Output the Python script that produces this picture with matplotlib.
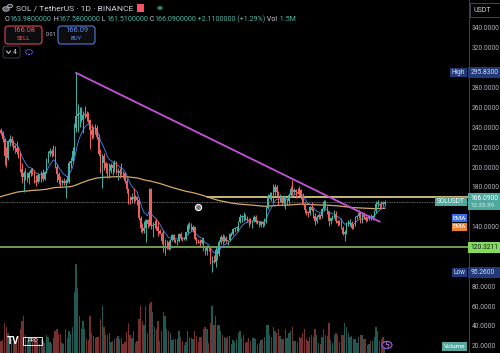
import matplotlib
matplotlib.use("Agg")
import matplotlib.pyplot as plt
from matplotlib.patches import Rectangle, FancyBboxPatch, Circle
from matplotlib.lines import Line2D

# SOL / TetherUS, 1D, Binance -- daily candles 2024-12-06 .. 2025-07-15
opens = [
    227, 238, 235, 229, 212, 210, 226, 229, 225, 222, 220, 216, 214, 199, 191, 195, 193, 190, 195, 198, 197, 187, 186, 193, 190, 195,  # dec
    189, 196, 207, 215, 217, 214, 219, 201, 194, 188, 186, 187, 185, 187, 186, 205, 207, 217, 240, 252, 254, 255, 248, 253, 254, 251, 248, 238, 233, 238, 240,  # jan
    231, 214, 203, 212, 205, 200, 192, 197, 203, 200, 205, 196, 197, 195, 196, 195, 187, 179, 170, 168, 171, 169, 171, 168, 150, 140, 137, 140,  # feb
    148, 144, 179, 142, 143, 144, 141, 137, 134, 126, 125, 125, 125, 118, 128, 133, 127, 127, 126, 134, 130, 128, 129, 136, 143, 143, 138, 141, 129, 126, 125,  # mar
    124, 128, 117, 116, 120, 119, 106, 106, 105, 117, 113, 125, 131, 126, 130, 126, 127, 134, 134, 139, 140, 140, 146, 151, 151, 151, 149, 148, 147, 146,  # apr
    147, 151, 146, 146, 143, 146, 144, 146, 160, 172, 172, 172, 176, 181, 176, 168, 171, 165, 171, 166, 167, 173, 179, 176, 178, 176, 175, 178, 172, 164, 158,  # may
    156, 155, 161, 158, 152, 147, 151, 153, 152, 159, 166, 161, 156, 147, 150, 151, 154, 147, 145, 146, 140, 134, 136, 145, 145, 145, 140, 143, 151, 152,  # jun
    155, 147, 153, 151, 148, 150, 151, 150, 152, 157, 164, 164, 163, 164, 163.98,  # jul
]
highs = [
    243, 240, 237, 230, 221, 228, 233, 232, 228, 224, 227, 221, 216, 205, 197, 200, 196, 197, 200, 200, 198, 193, 195, 194, 197, 199,
    197, 210, 217, 220, 219, 223, 222, 204, 196, 192, 189, 190, 189, 192, 207, 211, 221, 245, 295.83, 264, 261, 261, 257, 262, 257, 256, 249, 244, 241, 244, 243,
    234, 219, 214, 215, 206, 205, 205, 205, 206, 208, 207, 200, 200, 205, 197, 196, 190, 180, 172, 175, 180, 173, 172, 170, 152, 145, 147, 149,
    149, 180, 180, 146, 148, 150, 147, 139, 136, 138, 129, 127, 128, 129, 134, 134, 129, 128, 135, 136, 131, 131, 136, 145, 146, 145, 143, 142, 131, 129, 129,
    130, 131, 120, 122, 121, 120, 111, 112, 120, 119, 127, 133, 134, 133, 132, 128, 135, 136, 140, 141, 142, 147, 154, 153, 156, 154, 152, 150, 150, 148,
    153, 153, 148, 147, 147, 147, 150, 162, 174, 176, 176, 184, 184, 183, 177, 174, 172, 173, 172, 170, 175, 182, 188, 180, 179, 180, 182, 179, 175, 166, 159,
    157, 162, 166, 160, 155, 153, 155, 154, 160, 168, 168, 162, 157, 151, 153, 158, 157, 148, 148, 150, 142, 138, 146, 148, 149, 147, 144, 152, 153, 158,
    156, 155, 156, 152, 151, 153, 154, 153, 158, 167, 168, 165, 167, 167, 167.58,
]
lows = [
    225, 233, 226, 203, 201, 208, 222, 222, 218, 215, 214, 210, 196, 185, 176, 188, 186, 184, 192, 193, 185, 182, 185, 187, 186, 187,
    188, 195, 205, 212, 211, 212, 200, 186, 184, 181, 183, 183, 170, 185, 185, 200, 205, 212, 236, 236, 241, 246, 235, 250, 247, 245, 219, 229, 230, 234, 229,
    212, 195, 180, 198, 195, 190, 190, 195, 193, 196, 194, 188, 190, 193, 190, 185, 175, 164, 164, 165, 165, 167, 163, 148, 136, 135, 135, 125,
    140, 142, 139, 131, 140, 138, 132, 134, 123, 115, 112, 118, 117, 118, 126, 125, 124, 122, 125, 128, 126, 127, 128, 134, 139, 137, 136, 127, 123, 124, 121,
    123, 116, 112, 112, 116, 103, 95.26, 104, 100, 107, 111, 123, 123, 125, 124, 122, 126, 132, 133, 136, 137, 137, 145, 146, 147, 148, 146, 141, 144, 140,
    146, 145, 144, 141, 141, 141, 142, 145, 159, 169, 167, 166, 173, 172, 163, 166, 163, 162, 159, 163, 164, 171, 173, 174, 170, 174, 172, 169, 163, 155, 153,
    151, 153, 157, 150, 143, 145, 149, 149, 150, 157, 160, 154, 142, 144, 148, 150, 145, 142, 143, 139, 133, 126, 134, 142, 142, 139, 139, 142, 149, 150,
    145, 145, 149, 146, 147, 148, 148, 148, 151, 155, 161, 159, 161, 162, 161.51,
]
closes = [
    238, 235, 229, 212, 210, 226, 229, 225, 222, 220, 216, 214, 199, 191, 195, 193, 190, 195, 198, 197, 187, 186, 193, 190, 195, 189,
    196, 207, 215, 217, 214, 219, 201, 194, 188, 186, 187, 185, 187, 186, 205, 207, 217, 240, 252, 254, 255, 248, 253, 254, 251, 248, 238, 233, 238, 240, 231,
    214, 203, 212, 205, 200, 192, 197, 203, 200, 205, 196, 197, 195, 196, 195, 187, 179, 170, 168, 171, 169, 171, 168, 150, 140, 137, 140, 148,
    144, 179, 142, 143, 144, 141, 137, 134, 126, 125, 125, 125, 118, 128, 133, 127, 127, 126, 134, 130, 128, 129, 136, 143, 143, 138, 141, 129, 126, 125, 124,
    128, 117, 116, 120, 119, 106, 106, 105, 117, 113, 125, 131, 126, 130, 126, 127, 134, 134, 139, 140, 140, 146, 151, 151, 151, 149, 148, 147, 146, 147,
    151, 146, 146, 143, 146, 144, 146, 160, 172, 172, 172, 176, 181, 176, 168, 171, 165, 171, 166, 167, 173, 179, 176, 178, 176, 175, 178, 172, 164, 158, 156,
    155, 161, 158, 152, 147, 151, 153, 152, 159, 166, 161, 156, 147, 150, 151, 154, 147, 145, 146, 140, 134, 136, 145, 145, 145, 140, 143, 151, 152, 155,
    147, 153, 151, 148, 150, 151, 150, 152, 157, 164, 164, 163, 164, 163.98, 166.09,
]
volumes = [  # millions of SOL
    5.5, 3.0, 3.2, 7.5, 6.5, 5.0, 4.2, 3.5, 2.8, 2.5, 4.0, 4.2, 6.0, 8.0, 9.0, 4.5, 3.2, 4.0, 3.2, 2.6, 3.6, 3.8, 2.6, 2.2, 3.5, 3.0,
    2.5, 4.5, 4.0, 2.8, 2.3, 3.8, 5.5, 5.8, 4.6, 4.8, 2.4, 2.2, 6.0, 3.8, 5.5, 4.8, 6.5, 15.0, 22.0, 16.0, 9.0, 6.0, 8.0, 6.0, 3.5, 3.2, 9.0, 5.0, 4.2, 3.8, 4.0,
    4.0, 8.5, 11.5, 6.5, 4.5, 4.5, 5.0, 2.8, 3.0, 3.5, 3.8, 4.2, 3.5, 3.8, 2.2, 2.8, 5.2, 7.5, 4.5, 3.8, 5.5, 2.5, 3.0, 8.5, 11.5, 8.0, 7.0, 11.5,
    5.0, 12.0, 12.5, 10.0, 6.5, 6.0, 8.0, 3.0, 5.5, 10.0, 9.0, 6.0, 5.5, 5.0, 3.2, 3.5, 3.5, 3.5, 5.5, 4.0, 3.0, 2.0, 2.8, 5.5, 4.0, 3.8, 3.5, 5.5, 4.2, 2.8, 4.0,
    4.0, 6.0, 6.5, 6.0, 2.5, 7.5, 11.5, 7.0, 9.0, 7.0, 7.0, 5.5, 4.5, 4.0, 3.8, 4.0, 4.2, 2.2, 3.2, 2.8, 3.5, 5.0, 5.5, 3.8, 4.5, 2.5, 2.6, 3.8, 3.0, 3.8,
    3.8, 3.5, 2.0, 2.5, 3.2, 3.5, 4.0, 7.0, 7.0, 4.5, 4.0, 6.5, 5.5, 5.0, 6.0, 4.2, 3.5, 3.5, 6.0, 3.8, 5.0, 5.5, 6.5, 3.0, 3.0, 2.8, 4.0, 3.8, 5.0, 6.0, 3.5,
    3.0, 4.0, 4.5, 4.0, 6.0, 4.5, 2.5, 2.2, 4.0, 6.0, 4.5, 4.2, 7.5, 3.2, 2.5, 4.5, 5.0, 4.5, 2.8, 4.5, 4.5, 7.5, 6.5, 5.0, 4.0, 4.2, 3.5, 3.5, 2.5, 4.0,
    4.5, 4.5, 3.5, 3.5, 2.0, 2.2, 3.0, 3.0, 4.0, 6.5, 5.5, 3.0, 3.5, 4.0, 1.5,
]

# drawings on the chart (bar index, price)
trend_start = (44, 295.83)
trend_end = (218, 146.0)
resistance = 171.0
resistance_from = 119
support = 120.3211
high_price, low_price = 295.83, 95.26
ema_fast_len = 9
ema_slow_len, ema_slow_seed = 200, 170.0
event_idx, event_price = 114, 160.5

BG = "#000000"
UP, DOWN = "#3fb3a5", "#ef5f5f"
FONT = ["Roboto", "DejaVu Sans"]
W, H = 500, 353


def ema(vals, n, seed):
    a = 2.0 / (n + 1)
    out, e = [], seed
    for v in vals:
        e = e + a * (v - e)
        out.append(e)
    return out


n = len(closes)
idx = list(range(n))
fast = ema(closes, ema_fast_len, closes[0])
slow = ema(closes, ema_slow_len, ema_slow_seed)

fig = plt.figure(figsize=(W / 100, H / 100), dpi=100, facecolor=BG)
rect = [0, 0, 468 / W, 1]
vax = fig.add_axes(rect)
ax = fig.add_axes(rect, sharex=vax)
vax.set_facecolor(BG)
ax.patch.set_alpha(0)
for a in (vax, ax):
    a.set_axis_off()
ax.set_xlim(0.4, 268.7)
ax.set_ylim(13.7, 369.2)
vax.set_ylim(0, 87)

# volume
vcol = [UP if c >= o else DOWN for o, c in zip(opens, closes)]
vax.bar(idx, volumes, width=0.75, color=vcol, alpha=0.5, linewidth=0)

# horizontal levels
ax.axhline(support, color="#8fc46a", lw=1.1, zorder=2)
ax.hlines(resistance, resistance_from, 268.7, color="#ecd98c", lw=1.2, zorder=2)
ax.axhline(closes[-1], color="#8a8a8a", lw=0.6, ls=(0, (1, 1)), zorder=2)

# moving averages
ax.plot(idx, slow, color="#d6a866", lw=0.9, zorder=3)
ax.plot(idx, fast, color="#4f86f0", lw=0.6, zorder=3)

# candles
ccol = [UP if c >= o else DOWN for o, c in zip(opens, closes)]
ax.vlines(idx, lows, highs, colors=ccol, lw=0.7, zorder=4)
bodies = [max(abs(c - o), 0.8) for o, c in zip(opens, closes)]
ax.bar(idx, bodies, bottom=[min(o, c) for o, c in zip(opens, closes)],
       width=0.7, color=ccol, linewidth=0, zorder=5)

# trend line
ax.plot([trend_start[0], trend_end[0]], [trend_start[1], trend_end[1]],
        color="#c552da", lw=1.3, zorder=6)

ax.scatter([event_idx], [event_price], s=20, facecolor="#777777",
           edgecolor="white", linewidth=0.8, zorder=7)


def fx(px):
    return px / W


def fy(py):
    return 1 - py / H


def py_of(p):
    return H - ax.transData.transform((0, p))[1]


def box(x0, y0, x1, y1, fc, ec="none", lw=0.0, z=8):
    fig.patches.append(Rectangle((fx(x0), fy(y1)), (x1 - x0) / W, (y1 - y0) / H,
                                 transform=fig.transFigure, facecolor=fc,
                                 edgecolor=ec, linewidth=lw, zorder=z))


# price scale; labels under the tags are hidden like on the real scale
tag_prices = [high_price, low_price, support, closes[-1]]
fig.add_artist(Line2D([fx(468.5)] * 2, [0, 1], color="#3a3d45", lw=0.8))
for p in range(340, 0, -20):
    if min(abs(py_of(p) - py_of(t)) for t in tag_prices) < 10:
        continue
    fig.text(fx(471.5), fy(py_of(p)), "%.4f" % p, color="#b2b5be", fontsize=4.8,
             va="center", ha="left", family=FONT, zorder=7)

box(470, 3, 499.5, 17, BG, "#434651", 0.7)
fig.text(fx(473), fy(10), "USDT", color="#d1d4dc", fontsize=5.0, va="center", family=FONT, zorder=9)


def tag(p, text, fc, tc, left=None, lw_=17, h=11, extra=None):
    y = py_of(p)
    box(468, y - h / 2, 500, y + h / 2, fc)
    fig.text(fx(470.5), fy(y if extra is None else y - 3), text, color=tc, fontsize=4.8,
             va="center", family=FONT, zorder=9)
    if extra:
        fig.text(fx(470.5), fy(y + 3.8), extra, color="#d8f0ec", fontsize=4.4,
                 va="center", family=FONT, zorder=9)
    if left:
        box(467 - lw_, y - 4.5, 467, y + 4.5, fc)
        fig.text(fx(467 - lw_ / 2), fy(y), left, color=tc, fontsize=4.7,
                 ha="center", va="center", family=FONT, zorder=9)


tag(high_price, "%.4f" % high_price, "#223b78", "#d6defa", left="High")
tag(low_price, "%.4f" % low_price, "#223b78", "#d6defa", left="Low", lw_=15)
tag(support, "%.4f" % support, "#84dc5c", "#131722")
tag(closes[-1], "%.4f" % closes[-1], "#4fa99e", "#ffffff", left="SOLUSDT", lw_=32,
    h=17, extra="12:33:39")

# EMA labels
for yy, col in ((218, "#3b6ee8"), (227, "#ee8432")):
    box(452, yy - 4.3, 467, yy + 4.3, col)
    fig.text(fx(459.5), fy(yy), "EMA", color="white", fontsize=4.6, ha="center",
             va="center", family=FONT, zorder=9)

# volume tag
box(442, 342, 467, 351, "#57a99f")
fig.text(fx(454.5), fy(346.5), "Volume", color="white", fontsize=4.6, ha="center",
         va="center", family=FONT, zorder=9)

# header
fig.patches.append(Circle((fx(6), fy(9)), 3.2 / W, transform=fig.transFigure,
                          facecolor="#5d6169", edgecolor="#d1d4dc", lw=0.5))
fig.patches.append(Circle((fx(10), fy(6)), 2.5 / W, transform=fig.transFigure,
                          facecolor="#2b2f38", edgecolor="#d1d4dc", lw=0.5))
fig.text(fx(16), fy(8.5), "SOL / TetherUS · 1D · BINANCE", color="#d1d4dc",
         fontsize=6.1, va="center", family=FONT)
box(137, 4, 144, 12, "#f7525f")
fig.patches.append(Circle((fx(160), fy(8)), 3.5 / W, transform=fig.transFigure,
                          facecolor="#1b3a33", edgecolor="none"))
fig.patches.append(Circle((fx(160), fy(8)), 1.6 / W, transform=fig.transFigure,
                          facecolor="#2fbf8f", edgecolor="none"))

renderer = fig.canvas.get_renderer()
teal = "#4fb6a8"
lab = "#c9ccd4"
parts = [("O", lab), ("163.9800000", teal), (" H", lab), ("167.5800000", teal),
         (" L", lab), ("161.5100000", teal), (" C", lab), ("166.0900000", teal),
         (" +2.1100000 (+1.29%)", teal), (" Vol", lab), (" 1.5M", teal)]
x = 5
for s, c in parts:
    t = fig.text(fx(x), fy(19.5), s, color=c, fontsize=5.1, va="center", family=FONT)
    x += t.get_window_extent(renderer).width

for x0, col, top, bottom in ((5, "#f7525f", "166.08", "SELL"), (58, "#5b8ff9", "166.09", "BUY")):
    fig.patches.append(FancyBboxPatch((fx(x0), fy(44)), 37 / W, 18 / H,
                                      boxstyle="round,pad=0,rounding_size=0.006",
                                      mutation_aspect=W / H, transform=fig.transFigure,
                                      facecolor="#0d0d0f", edgecolor=col, lw=0.7))
    fig.text(fx(x0 + 18.5), fy(31), top, color=col, fontsize=5.4, ha="center",
             va="center", family=FONT)
    fig.text(fx(x0 + 18.5), fy(39), bottom, color=col, fontsize=4.4, ha="center",
             va="center", family=FONT)
fig.text(fx(51.5), fy(35), "0.01", color="#c9ccd4", fontsize=4.0, ha="center",
         va="center", family=FONT)

fig.patches.append(FancyBboxPatch((fx(3), fy(58)), 17 / W, 12 / H,
                                  boxstyle="round,pad=0,rounding_size=0.005",
                                  mutation_aspect=W / H, transform=fig.transFigure,
                                  facecolor=BG, edgecolor="#434651", lw=0.6))
fig.add_artist(Line2D([fx(6.5), fx(8.5), fx(10.5)], [fy(51), fy(53.5), fy(51)],
                      color="#d1d4dc", lw=0.7))
fig.text(fx(15), fy(52), "4", color="#d1d4dc", fontsize=5.0, ha="center",
         va="center", family=FONT)
fig.patches.append(Circle((fx(29), fy(52)), 3.5 / W, transform=fig.transFigure,
                          facecolor="none", edgecolor="#6b7cff", lw=0.8, ls=(0, (1, 0.8))))

# bottom-left logo and alert icon
fig.text(fx(7), fy(341), "TV", color="white", fontsize=7, fontweight="bold",
         va="center", family=FONT)
fig.patches.append(Rectangle((fx(23), fy(345)), 19 / W, 8 / H, transform=fig.transFigure,
                             facecolor="none", edgecolor="white", lw=0.6))
fig.text(fx(32.5), fy(341), "PRO", color="white", fontsize=4.0, ha="center",
         va="center", family=FONT)
fig.patches.append(Circle((fx(387), fy(345)), 5 / W, transform=fig.transFigure,
                          facecolor="#120a1a", edgecolor="#9a62d8", lw=0.8))
fig.text(fx(387), fy(345), "ϟ", color="#b784f0", fontsize=5.5, ha="center",
         va="center", family=["DejaVu Sans"])

fig.savefig("out.png", dpi=100, facecolor=BG)
